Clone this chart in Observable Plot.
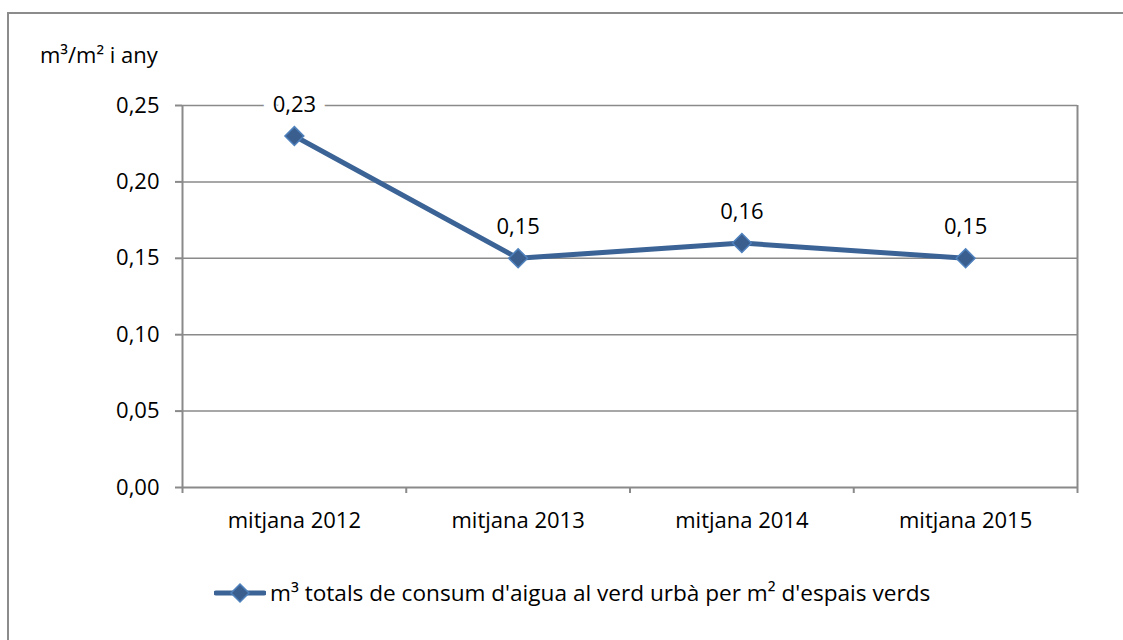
<!DOCTYPE html>
<html>
<head>
<meta charset="utf-8">
<script src="https://cdn.jsdelivr.net/npm/d3@7"></script>
<script src="https://cdn.jsdelivr.net/npm/@observablehq/plot@0.6"></script>
<style>
  html, body { margin: 0; padding: 0; background: #fff; }
  #wrap { position: relative; width: 1123px; height: 640px; overflow: hidden; font-family: "Open Sans", sans-serif; }
  #frame { position: absolute; left: 7px; top: 12px; width: 1200px; height: 700px; border-left: 2px solid #8c8c8c; border-top: 2px solid #8c8c8c; }
  #unit { position: absolute; left: 40px; top: 39px; font-size: 22px; color: #000; white-space: nowrap; }
  #chart { position: absolute; left: 0; top: 0; }
  #legend { position: absolute; left: 214px; top: 577px; display: flex; align-items: center; font-size: 22.6px; color: #000; white-space: nowrap; }
  #legend svg { margin-right: 4px; }
</style>
</head>
<body>
<div id="wrap">
  <div id="frame"></div>
  <div id="chart"></div>
  <div id="unit"></div>
  <div id="legend"></div>
</div>
<script>
const categories = ["mitjana 2012", "mitjana 2013", "mitjana 2014", "mitjana 2015"];
const values = [0.23, 0.15, 0.16, 0.15];
const yTicks = [0, 0.05, 0.10, 0.15, 0.20, 0.25];
const unitLabel = "m³/m² i any";
const seriesName = "m³ totals de consum d'aigua al verd urbà per m² d'espais verds";

const lineColor = "#3b6396";
const markFill = "#3a5f8f";
const markStroke = "#4f81bd";
const gridColor = "#8a8a8a";

const fmt = v => d3.format(".2f")(v).replace(".", ",");
const data = categories.map((c, i) => ({i, c, v: values[i]}));
const bounds = d3.range(categories.length + 1).map(k => k - 0.5);
const ends = [bounds[0], bounds[bounds.length - 1]];

const chart = Plot.plot({
  width: 1123,
  height: 640,
  marginLeft: 182,
  marginRight: 46,
  marginTop: 105,
  marginBottom: 153,
  style: {fontFamily: "Open Sans, sans-serif", fontSize: "22px", background: "transparent", overflow: "visible"},
  x: {type: "linear", domain: [bounds[0], bounds[bounds.length - 1]]},
  y: {domain: [0, 0.25]},
  marks: [
    Plot.ruleY(yTicks.filter(t => t > 0), {stroke: gridColor, strokeWidth: 1.5}),
    Plot.ruleY([0], {stroke: gridColor, strokeWidth: 2}),
    Plot.ruleX(bounds, {y1: 0, y2: 0, insetBottom: -6, stroke: gridColor, strokeWidth: 2}),
    Plot.ruleX(ends, {y1: 0, y2: 0.25, stroke: gridColor, strokeWidth: 2}),
    Plot.axisY({ticks: yTicks, tickFormat: fmt, tickSize: 7, tickPadding: 16, stroke: gridColor, strokeWidth: 2, label: null, fill: "#000"}),
    Plot.axisX({ticks: data.map(d => d.i), tickFormat: i => categories[i], tickSize: 0, tickPadding: 25, label: null, fill: "#000"}),
    Plot.line(data, {x: "i", y: "v", stroke: lineColor, strokeWidth: 5}),
    Plot.dot(data, {x: "i", y: "v", symbol: "diamond2", r: 8.5, fill: markFill, stroke: markStroke, strokeWidth: 1.5}),
    Plot.text(data, {x: "i", y: "v", text: d => fmt(d.v), dy: -31, fill: "#000", stroke: "white", strokeWidth: 20, strokeLinejoin: "round", fontSize: 22, paintOrder: "stroke"})
  ]
});
document.getElementById("chart").appendChild(chart);
document.getElementById("unit").textContent = unitLabel;

const leg = document.getElementById("legend");
const ns = "http://www.w3.org/2000/svg";
const s = document.createElementNS(ns, "svg");
s.setAttribute("width", 52); s.setAttribute("height", 22);
s.innerHTML = `<line x1="2" y1="11" x2="50" y2="11" stroke="${lineColor}" stroke-width="5" stroke-linecap="round"/>` +
  `<path d="M26,2 L35,11 L26,20 L17,11 Z" fill="${markFill}" stroke="${markStroke}" stroke-width="1.5"/>`;
leg.appendChild(s);
const sp = document.createElement("span");
sp.textContent = seriesName;
leg.appendChild(sp);
</script>
</body>
</html>
